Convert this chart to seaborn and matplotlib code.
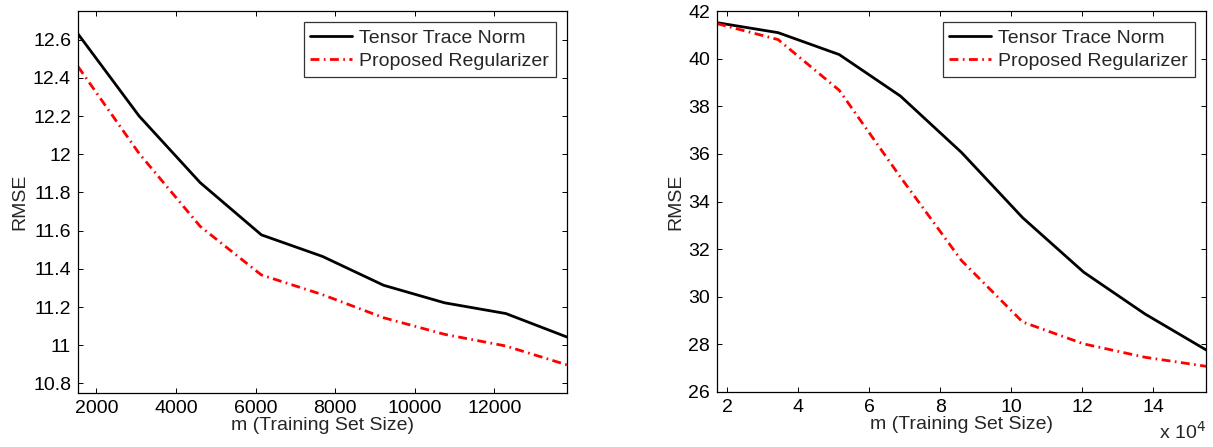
import numpy as np
import pandas as pd
import matplotlib
matplotlib.use("Agg")
import matplotlib.pyplot as plt
import seaborn as sns
from matplotlib.ticker import FixedLocator, FuncFormatter

sns.set_theme(style="white")
plt.rcParams['font.family'] = ['Liberation Sans', 'DejaVu Sans']

# ---- data ----
m_left = [1536, 3072, 4608, 6144, 7680, 9216, 10752, 12288, 13824]
ttn_left = [12.63, 12.20, 11.851, 11.578, 11.465, 11.314, 11.222, 11.166, 11.043]
prop_left = [12.459, 12.004, 11.622, 11.368, 11.265, 11.144, 11.057, 10.996, 10.897]

m_right = [17200, 34400, 51600, 68800, 86000, 103200, 120400, 137600, 154800]
ttn_right = [41.51, 41.09, 40.17, 38.43, 36.06, 33.32, 31.03, 29.28, 27.77]
prop_right = [41.47, 40.80, 38.67, 35.03, 31.52, 28.94, 28.02, 27.46, 27.08]

series_names = ["Tensor Trace Norm", "Proposed Regularizer"]
xlabel = "m (Training Set Size)"
ylabel = "RMSE"

left_xticks = [2000, 4000, 6000, 8000, 10000, 12000]
left_yticks = [10.8, 11.0, 11.2, 11.4, 11.6, 11.8, 12.0, 12.2, 12.4, 12.6]
right_xticks = [20000, 40000, 60000, 80000, 100000, 120000, 140000]
right_yticks = [26, 28, 30, 32, 34, 36, 38, 40, 42]

FS = 14
DASH = [3.2, 1.6, 0.6, 1.6]

fig = plt.figure(figsize=(12.13, 4.47), dpi=100)
W, H = 1213, 447
ax1 = fig.add_axes([78 / W, 1 - 393 / H, (567 - 78) / W, (393 - 11) / H])
ax2 = fig.add_axes([717 / W, 1 - 392 / H, (1206 - 717) / W, (392 - 11) / H])


def draw(ax, x, a, b):
    df = pd.DataFrame({"m": x + x, "rmse": a + b,
                       "method": [series_names[0]] * len(x) + [series_names[1]] * len(x)})
    sns.lineplot(data=df[df.method == series_names[0]], x="m", y="rmse", ax=ax,
                 color="black", lw=2.0, label=series_names[0])
    sns.lineplot(data=df[df.method == series_names[1]], x="m", y="rmse", ax=ax,
                 color="#ff0000", lw=2.0, label=series_names[1])
    ax.lines[1].set_dashes(DASH)
    for sp in ax.spines.values():
        sp.set_color("black")
        sp.set_linewidth(0.9)
    ax.tick_params(direction="in", length=3.5, width=0.7, top=True, right=True,
                   bottom=True, left=True, labelsize=FS, colors="black", pad=5)
    ax.set_xlabel(xlabel, fontsize=FS, labelpad=0)
    ax.set_ylabel(ylabel, fontsize=FS, labelpad=3)
    leg = ax.legend(loc="upper right", fontsize=FS, frameon=True, fancybox=False,
                    edgecolor="black", borderaxespad=0.58, handlelength=2.15,
                    labelspacing=0.3, borderpad=0.35, handletextpad=0.35)
    leg.get_frame().set_linewidth(0.9)
    leg.get_lines()[1].set_dashes(DASH)


draw(ax1, m_left, ttn_left, prop_left)
ax1.set_xlim(m_left[0], m_left[-1])
ax1.set_ylim(10.75, 12.75)
ax1.xaxis.set_major_locator(FixedLocator(left_xticks))
ax1.yaxis.set_major_locator(FixedLocator(left_yticks))
ax1.yaxis.set_major_formatter(FuncFormatter(lambda v, p: f"{v:g}"))
ax1.xaxis.set_major_formatter(FuncFormatter(lambda v, p: f"{v:g}"))

draw(ax2, m_right, ttn_right, prop_right)
ax2.set_xlim(m_right[0], m_right[-1])
ax2.set_ylim(26, 42)
ax2.xaxis.set_major_locator(FixedLocator(right_xticks))
ax2.yaxis.set_major_locator(FixedLocator(right_yticks))
ax2.xaxis.set_major_formatter(FuncFormatter(lambda v, p: f"{v / 1e4:g}"))
ax2.yaxis.set_major_formatter(FuncFormatter(lambda v, p: f"{v:g}"))
ax2.text(1.0, -0.122, r"x 10$^{4}$", transform=ax2.transAxes, ha="right",
         va="baseline", fontsize=FS)

fig.savefig("out.png", dpi=100, facecolor="white")
